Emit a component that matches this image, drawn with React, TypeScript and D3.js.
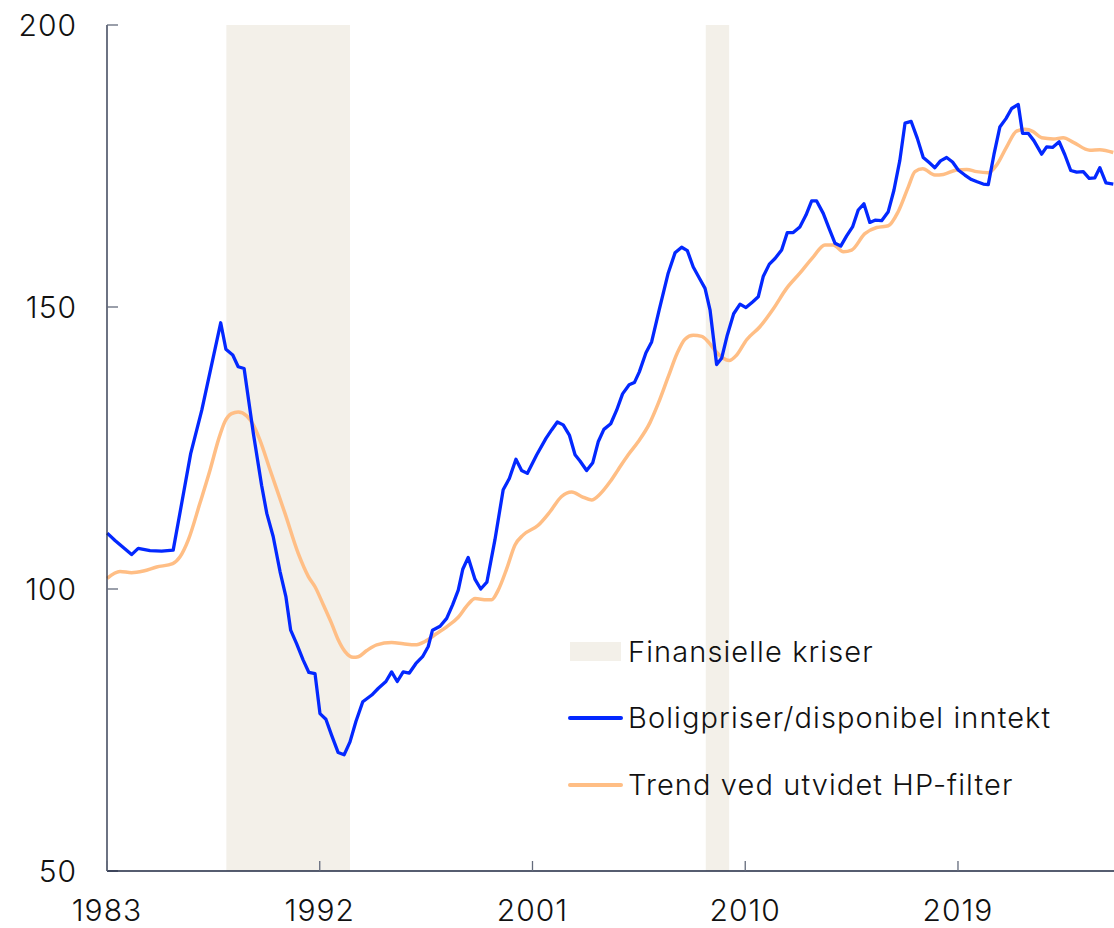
import React from "react";
import * as d3 from "d3";

// Boligpriser/disponibel inntekt (decimal year, index)
const priceYears = [
  1983.01, 1983.34, 1984.04, 1984.32, 1984.82, 1985.31, 1985.8, 1986.16, 1986.54, 1987.01,
  1987.81, 1988.03, 1988.32, 1988.55, 1988.8, 1989.19, 1989.54, 1989.76, 1990.03, 1990.32,
  1990.57, 1990.77, 1991.02, 1991.3, 1991.54, 1991.8, 1992.01, 1992.26, 1992.5, 1992.78,
  1993.03, 1993.28, 1993.53, 1993.82, 1994.2, 1994.48, 1994.8, 1995.04, 1995.28, 1995.53,
  1995.79, 1996.07, 1996.35, 1996.59, 1996.77, 1997.09, 1997.37, 1997.62, 1997.86, 1998.05,
  1998.28, 1998.57, 1998.81, 1999.07, 1999.41, 1999.76, 2000.02, 2000.3, 2000.54, 2000.78,
  2001.18, 2001.57, 2001.81, 2002.05, 2002.3, 2002.56, 2002.8, 2003.01, 2003.29, 2003.55,
  2003.78, 2004.02, 2004.31, 2004.56, 2004.81, 2005.09, 2005.31, 2005.52, 2005.8, 2006.04,
  2006.36, 2006.74, 2007.03, 2007.31, 2007.55, 2007.8, 2008.05, 2008.3, 2008.51, 2008.79,
  2009.0, 2009.24, 2009.51, 2009.78, 2010.03, 2010.31, 2010.55, 2010.76, 2011.02, 2011.26,
  2011.54, 2011.78, 2012.03, 2012.31, 2012.57, 2012.81, 2013.02, 2013.3, 2013.55, 2013.8,
  2014.04, 2014.29, 2014.54, 2014.78, 2015.02, 2015.27, 2015.49, 2015.77, 2016.05, 2016.29,
  2016.54, 2016.76, 2017.02, 2017.28, 2017.53, 2017.78, 2018.02, 2018.26, 2018.52, 2018.77,
  2019.01, 2019.29, 2019.57, 2019.81, 2020.07, 2020.28, 2020.52, 2020.77, 2021.03, 2021.27,
  2021.55, 2021.73, 2021.97, 2022.21, 2022.54, 2022.75, 2023.0, 2023.28, 2023.52, 2023.77,
  2024.02, 2024.3, 2024.55, 2024.79, 2025.0, 2025.26, 2025.57,
];
const priceValues = [
  109.9, 108.6, 106.1, 107.2, 106.8, 106.7, 106.9, 115.2, 124.0, 131.7,
  147.2, 142.5, 141.5, 139.4, 139.1, 127.6, 118.4, 113.4, 109.3, 103.1,
  98.6, 92.7, 90.3, 87.4, 85.2, 85.0, 77.9, 76.9, 74.1, 71.0,
  70.6, 72.9, 76.5, 80.0, 81.2, 82.4, 83.6, 85.3, 83.6, 85.3,
  85.1, 86.8, 88.0, 89.8, 92.7, 93.4, 94.8, 97.2, 99.8, 103.5,
  105.6, 101.7, 100.0, 101.2, 108.7, 117.6, 119.6, 123.0, 121.0, 120.5,
  123.8, 126.7, 128.2, 129.6, 129.1, 127.3, 123.8, 122.7, 121.0, 122.4,
  126.1, 128.3, 129.3, 131.7, 134.6, 136.2, 136.6, 138.5, 141.9, 143.8,
  149.5, 156.0, 159.6, 160.6, 160.0, 157.1, 155.2, 153.3, 149.5, 139.8,
  140.9, 145.0, 148.8, 150.5, 149.9, 150.9, 151.8, 155.4, 157.6, 158.6,
  160.1, 163.2, 163.2, 164.2, 166.3, 168.8, 168.8, 166.6, 163.9, 161.3,
  160.8, 162.6, 164.2, 167.2, 168.3, 165.0, 165.4, 165.3, 166.9, 170.7,
  176.0, 182.6, 182.9, 179.9, 176.5, 175.6, 174.7, 175.9, 176.5, 175.7,
  174.3, 173.4, 172.6, 172.2, 171.8, 171.7, 177.0, 181.9, 183.4, 185.2,
  185.9, 180.8, 180.8, 179.5, 177.1, 178.4, 178.3, 179.3, 177.0, 174.2,
  173.9, 174.0, 172.8, 172.9, 174.7, 172.0, 171.8,
];

// Trend ved utvidet HP-filter
const trendYears = [
  1983.01, 1983.55, 1984.04, 1984.54, 1985.1, 1985.78, 1986.09, 1986.44, 1986.93, 1987.36,
  1987.71, 1987.99, 1988.27, 1988.55, 1988.91, 1989.19, 1989.47, 1989.9, 1990.53, 1991.09,
  1991.52, 1991.8, 1992.15, 1992.5, 1992.78, 1993.07, 1993.42, 1993.63, 1993.99, 1994.41,
  1995.04, 1995.53, 1996.03, 1996.45, 1996.95, 1997.37, 1997.86, 1998.28, 1998.57, 1999.06,
  1999.27, 1999.55, 1999.91, 2000.26, 2000.61, 2001.24, 2001.74, 2002.23, 2002.66, 2003.08,
  2003.5, 2003.85, 2004.28, 2004.63, 2005.05, 2005.47, 2005.97, 2006.32, 2006.74, 2007.12,
  2007.45, 2007.8, 2008.16, 2008.44, 2008.76, 2009.07, 2009.32, 2009.64, 2010.06, 2010.62,
  2011.19, 2011.75, 2012.31, 2012.88, 2013.37, 2013.72, 2014.15, 2014.5, 2015.06, 2015.56,
  2016.05, 2016.47, 2016.9, 2017.18, 2017.51, 2018.02, 2018.38, 2018.94, 2019.37, 2019.79,
  2020.28, 2020.64, 2021.06, 2021.48, 2021.83, 2022.18, 2022.54, 2023.03, 2023.45, 2023.88,
  2024.58, 2025.0, 2025.57,
];
const trendValues = [
  101.9, 103.1, 102.9, 103.2, 103.9, 104.5, 105.7, 108.7, 115.2, 121.1,
  126.4, 129.7, 131.1, 131.4, 130.7, 129.1, 126.4, 121.1, 113.4, 106.3,
  102.2, 100.4, 97.2, 93.9, 91.0, 88.9, 87.9, 88.0, 89.1, 90.1,
  90.5, 90.3, 90.1, 90.7, 92.1, 93.3, 95.0, 97.3, 98.3, 98.1,
  98.1, 99.8, 103.6, 107.8, 109.6, 111.3, 113.7, 116.4, 117.2, 116.4,
  115.8, 116.8, 119.0, 121.2, 123.8, 126.1, 129.5, 132.9, 137.6, 141.8,
  144.3, 145.0, 144.8, 143.8, 142.1, 140.9, 140.5, 141.5, 144.2, 146.5,
  149.7, 153.3, 156.0, 158.9, 161.0, 161.0, 159.8, 160.1, 163.0, 164.1,
  164.4, 166.9, 171.3, 174.0, 174.5, 173.4, 173.5, 174.3, 174.4, 174.0,
  173.8, 175.2, 178.4, 181.2, 181.5, 181.1, 180.0, 179.8, 180.0, 179.2,
  177.8, 177.9, 177.4,
];

// Finansielle kriser (start, end)
const crisisStarts = [1988.05, 2008.33];
const crisisEnds = [1993.28, 2009.32];

const xTickYears = [1983, 1992, 2001, 2010, 2019];
const yTickValues = [50, 100, 150, 200];

const legendLabels = ["Finansielle kriser", "Boligpriser/disponibel inntekt", "Trend ved utvidet HP-filter"];

const W = 1114;
const H = 928;
const FONT = "Inter, 'Noto Sans', sans-serif";
const BLUE = "#0328ff";
const ORANGE = "#ffbe85";
const SHADE = "#f3f0e9";
const AXIS = "#1e2740";
const TICK = "#646b7c";

export default function App() {
  const x = d3.scaleLinear().domain([1983, 2025.6]).range([107, 1114]);
  const y = d3.scaleLinear().domain([50, 200]).range([871, 25]);

  const price = priceYears.map((t, i) => [t, priceValues[i]] as [number, number]);
  const trend = trendYears.map((t, i) => [t, trendValues[i]] as [number, number]);

  const priceLine = d3
    .line<[number, number]>()
    .x((d) => x(d[0]))
    .y((d) => y(d[1]))
    .curve(d3.curveLinear);
  const trendLine = d3
    .line<[number, number]>()
    .x((d) => x(d[0]))
    .y((d) => y(d[1]))
    .curve(d3.curveMonotoneX);

  const [y0, y1] = y.range();
  const legendX = 570;
  const legendRows = [652, 718, 785];

  return (
    <svg
      width={W}
      height={H}
      style={{ position: "absolute", left: 0, top: 0, background: "#fff" }}
      fontFamily={FONT}
      fontWeight={300}
    >
      {crisisStarts.map((s, i) => (
        <rect
          key={"c" + i}
          x={x(s)}
          y={y1}
          width={x(crisisEnds[i]) - x(s)}
          height={y0 - y1}
          fill={SHADE}
        />
      ))}

      {/* legend */}
      <rect x={legendX} y={legendRows[0] - 10} width={51} height={19} fill={SHADE} />
      <line x1={legendX} x2={legendX + 51} y1={legendRows[1]} y2={legendRows[1]} stroke={BLUE} strokeWidth={4} strokeLinecap="round" />
      <line x1={legendX} x2={legendX + 51} y1={legendRows[2]} y2={legendRows[2]} stroke={ORANGE} strokeWidth={4} strokeLinecap="round" />
      {legendLabels.map((l, i) => (
        <text key={l} x={628} y={legendRows[i]} dy="0.36em" fontSize={29} letterSpacing={1.1} fill="#111">
          {l}
        </text>
      ))}

      <path d={trendLine(trend) || ""} fill="none" stroke={ORANGE} strokeWidth={3.5} strokeLinejoin="round" />
      <path d={priceLine(price) || ""} fill="none" stroke={BLUE} strokeWidth={3.3} strokeLinejoin="round" />

      {/* y axis */}
      <line x1={107} x2={107} y1={y1} y2={y0} stroke={AXIS} strokeWidth={1.3} />
      {yTickValues.map((v) => (
        <g key={"y" + v}>
          <line x1={107} x2={118} y1={y(v)} y2={y(v)} stroke={TICK} strokeWidth={1.3} />
          <text x={77} y={y(v)} dy="0.36em" textAnchor="end" fontSize={30} letterSpacing={1} fill="#111">
            {v}
          </text>
        </g>
      ))}

      {/* x axis */}
      <line x1={107} x2={W} y1={y0} y2={y0} stroke={AXIS} strokeWidth={1.3} />
      {xTickYears.map((t) => (
        <g key={"x" + t}>
          <line x1={x(t)} x2={x(t)} y1={y0} y2={y0 - 10} stroke={TICK} strokeWidth={1.3} />
          <text x={x(t)} y={921} textAnchor="middle" fontSize={30} letterSpacing={1} fill="#111">
            {t}
          </text>
        </g>
      ))}
    </svg>
  );
}
